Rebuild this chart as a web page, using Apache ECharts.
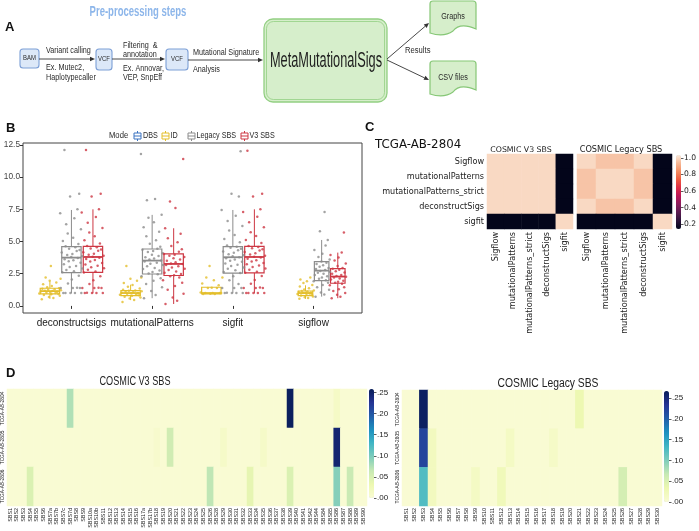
<!DOCTYPE html>
<html><head><meta charset="utf-8">
<script src="https://cdn.jsdelivr.net/npm/echarts@6/dist/echarts.min.js"></script>
<style>html,body{margin:0;padding:0;background:#fff}#c{width:699px;height:531px}</style>
</head><body><div id="c"></div>
<script>
// ================= Panel B data =================
const METHODS = ['deconstructsigs', 'mutationalPatterns', 'sigfit', 'sigflow'];
const MODES = ['DBS', 'ID', 'Legacy SBS', 'V3 SBS'];
const MODE_COLORS = ['#3A73C0', '#E3BE2B', '#8C8C8C', '#CD3743'];
// modes that occupy a dodge slot in each method group
const SLOTS = [
  ['ID', 'Legacy SBS', 'V3 SBS'],
  ['ID', 'Legacy SBS', 'V3 SBS'],
  ['ID', 'Legacy SBS', 'V3 SBS'],
  ['DBS', 'ID', 'Legacy SBS', 'V3 SBS']
];
// boxplot stats per method: [min, Q1, median, Q3, max]
const BOX_ID = [[0.55, 0.93, 1.15, 1.37, 1.9], [0.45, 0.8, 1.0, 1.19, 1.65], [0.93, 0.93, 1.0, 1.45, 1.45], [0.55, 0.8, 1.0, 1.16, 1.6]];
const BOX_LEGACY = [[0.98, 2.58, 3.75, 4.6, 7.45], [0.6, 2.48, 3.52, 4.42, 7.07], [0.98, 2.54, 3.78, 4.6, 7.45], [0.72, 1.97, 2.74, 3.44, 5.12]];
const BOX_V3 = [[0.98, 2.6, 3.8, 4.62, 7.5], [0.15, 2.36, 3.26, 4.04, 6.03], [0.98, 2.56, 3.8, 4.62, 7.5], [0.6, 1.76, 2.28, 2.9, 4.14]];
// individual error values (jittered points)
const PTS_ID = [
  [0.52, 0.62, 0.7, 0.78, 0.84, 0.9, 0.93, 0.96, 1.0, 1.03, 1.06, 1.09, 1.12, 1.15, 1.18, 1.21, 1.25, 1.29, 1.33, 1.37, 1.45, 1.55, 1.68, 1.82, 1.95, 2.1, 2.2, 3.1],
  [0.3, 0.45, 0.58, 0.66, 0.72, 0.78, 0.82, 0.86, 0.9, 0.94, 0.98, 1.0, 1.03, 1.06, 1.1, 1.13, 1.17, 1.2, 1.26, 1.35, 1.48, 1.62, 1.78, 1.95, 2.1, 2.2, 3.1],
  [0.93, 0.93, 0.95, 1.0, 1.0, 1.0, 1.0, 1.05, 1.4, 1.4, 1.42, 1.6, 1.75, 2.0, 2.2, 2.2, 3.1],
  [0.55, 0.62, 0.68, 0.74, 0.8, 0.84, 0.88, 0.92, 0.96, 1.0, 1.02, 1.05, 1.08, 1.12, 1.15, 1.2, 1.28, 1.38, 1.5, 1.62, 1.78, 1.92, 2.05, 2.2]
];
const PTS_LEGACY = [
  [1.0, 1.0, 1.0, 1.0, 1.01, 1.4, 1.4, 1.4, 1.41, 1.75, 2.05, 2.35, 2.62, 2.7, 2.78, 2.9, 3.02, 3.1, 3.24, 3.35, 3.46, 3.55, 3.63, 3.72, 3.8, 3.86, 3.95, 4.04, 4.15, 4.26, 4.35, 4.44, 4.55, 4.63, 4.8, 5.05, 5.3, 5.62, 5.95, 6.35, 6.8, 7.2, 7.5, 8.5, 8.7, 12.1],
  [0.6, 0.85, 1.15, 1.45, 1.7, 1.95, 2.15, 2.3, 2.45, 2.52, 2.63, 2.75, 2.86, 2.95, 3.08, 3.18, 3.27, 3.36, 3.45, 3.52, 3.6, 3.68, 3.78, 3.88, 3.98, 4.08, 4.18, 4.27, 4.36, 4.44, 4.6, 4.82, 5.1, 5.4, 5.75, 6.1, 6.5, 6.85, 7.07, 8.2, 8.3, 11.8],
  [1.0, 1.0, 1.0, 1.0, 1.02, 1.4, 1.4, 1.4, 1.7, 2.0, 2.3, 2.55, 2.64, 2.76, 2.88, 2.98, 3.1, 3.2, 3.3, 3.42, 3.5, 3.6, 3.7, 3.78, 3.85, 3.93, 4.02, 4.12, 4.22, 4.32, 4.43, 4.52, 4.6, 4.7, 4.95, 5.2, 5.5, 5.85, 6.2, 6.6, 7.0, 7.45, 8.5, 8.7, 12.0],
  [0.72, 0.88, 1.05, 1.25, 1.45, 1.62, 1.8, 1.92, 2.0, 2.1, 2.2, 2.3, 2.4, 2.5, 2.58, 2.66, 2.72, 2.78, 2.86, 2.95, 3.05, 3.15, 3.25, 3.35, 3.44, 3.6, 3.8, 4.05, 4.35, 4.7, 5.12, 5.8, 7.3]
];
const PTS_V3 = [
  [1.0, 1.0, 1.0, 1.0, 1.02, 1.4, 1.4, 1.4, 1.42, 1.7, 2.0, 2.3, 2.6, 2.68, 2.8, 2.92, 3.0, 3.12, 3.22, 3.33, 3.44, 3.56, 3.65, 3.74, 3.82, 3.9, 3.98, 4.06, 4.17, 4.28, 4.38, 4.46, 4.56, 4.65, 4.85, 5.1, 5.4, 5.7, 6.05, 6.45, 6.9, 7.25, 7.5, 8.5, 8.7, 12.1],
  [0.15, 0.4, 0.65, 0.95, 1.25, 1.55, 1.8, 2.0, 2.2, 2.3, 2.38, 2.48, 2.58, 2.68, 2.78, 2.88, 2.98, 3.08, 3.17, 3.25, 3.3, 3.4, 3.5, 3.6, 3.7, 3.8, 3.9, 3.98, 4.04, 4.2, 4.4, 4.65, 4.95, 5.25, 5.6, 6.03, 7.6, 8.1, 11.4],
  [1.0, 1.0, 1.0, 1.0, 1.01, 1.4, 1.4, 1.4, 1.43, 1.72, 2.02, 2.32, 2.58, 2.66, 2.8, 2.9, 3.02, 3.14, 3.24, 3.34, 3.45, 3.55, 3.66, 3.76, 3.82, 3.9, 4.0, 4.08, 4.18, 4.3, 4.4, 4.48, 4.58, 4.66, 4.88, 5.12, 5.42, 5.72, 6.1, 6.5, 6.92, 7.3, 7.5, 8.5, 8.7, 12.05],
  [0.6, 0.72, 0.86, 1.0, 1.15, 1.3, 1.45, 1.6, 1.72, 1.8, 1.88, 1.96, 2.05, 2.12, 2.2, 2.26, 2.32, 2.4, 2.5, 2.6, 2.7, 2.8, 2.88, 2.95, 3.1, 3.3, 3.52, 3.75, 3.95, 4.14, 5.7]
];
// horizontal jitter, as a fraction of box width
const JITTER = [-0.42, 0.18, -0.05, 0.51, -0.31, 0.07, 0.44, -0.55, 0.29, -0.18, 0.02, 0.38, -0.47, 0.13, -0.26, 0.57, -0.09, 0.24, -0.39, 0.47, -0.14, 0.1, -0.35, 0.33, -0.01, 0.55, -0.22, 0.05, -0.5, 0.27, 0.42, -0.12, 0.2, -0.3, 0.36, -0.44, 0.09, -0.19, 0.49, -0.27, 0.15, -0.58, 0.31, -0.07, 0.4, -0.36, 0.22];
const B_Y_TICKS = [0, 2.5, 5, 7.5, 10, 12.5];

// ================= Panel C data =================
const C_LABELS = ['Sigflow', 'mutationalPatterns', 'mutationalPatterns_strict', 'deconstructSigs', 'sigfit'];
const C_V3 = [
  [1, 1, 1, 1, 0.14],
  [1, 1, 1, 1, 0.14],
  [1, 1, 1, 1, 0.14],
  [1, 1, 1, 1, 0.14],
  [0.14, 0.14, 0.14, 0.14, 1]
];
const C_LEGACY = [
  [1, 0.96, 0.96, 1, 0.14],
  [0.96, 1, 1, 0.96, 0.14],
  [0.96, 1, 1, 0.96, 0.14],
  [1, 0.96, 0.96, 1, 0.14],
  [0.14, 0.14, 0.14, 0.14, 1]
];
const C_TICKS = [0.2, 0.4, 0.6, 0.8, 1.0];

// ================= Panel D data =================
const D_SAMPLES = ['TCGA-AB-2804', 'TCGA-AB-2805', 'TCGA-AB-2806'];
const D_V3_COLS = ['SBS1','SBS2','SBS3','SBS4','SBS5','SBS6','SBS7a','SBS7b','SBS7c','SBS7d','SBS8','SBS9','SBS10a','SBS10b','SBS11','SBS12','SBS13','SBS14','SBS15','SBS16','SBS17a','SBS17b','SBS18','SBS19','SBS20','SBS21','SBS22','SBS23','SBS24','SBS25','SBS26','SBS28','SBS29','SBS30','SBS31','SBS32','SBS33','SBS34','SBS35','SBS36','SBS37','SBS38','SBS39','SBS40','SBS41','SBS42','SBS44','SBS84','SBS85','SBS86','SBS87','SBS88','SBS89','SBS90'];
const D_V3_2804 = [0,0,0,0,0,0,0,0,0,0.075, 0,0,0,0,0,0,0,0,0,0, 0,0,0,0,0,0,0,0,0,0, 0,0,0,0,0,0,0,0,0,0, 0,0,0.255,0,0,0,0,0,0,0.012, 0,0,0,0];
const D_V3_2805 = [0,0,0,0,0,0,0,0,0,0, 0,0,0,0,0,0,0,0,0,0, 0,0,0.006,0,0.057,0,0,0,0,0, 0,0,0.01,0,0,0,0,0,0.01,0, 0,0,0,0,0,0,0,0,0,0.245, 0,0,0,0];
const D_V3_2806 = [0,0,0,0.048,0,0,0,0,0,0, 0,0,0,0,0,0,0,0,0,0, 0,0,0,0,0,0,0,0,0,0, 0.068,0,0,0,0,0,0.038,0,0,0, 0,0,0.048,0,0,0,0,0,0,0.094, 0,0.062,0,0];
const D_LEG_COLS = ['SBS1','SBS2','SBS3','SBS4','SBS5','SBS6','SBS7','SBS8','SBS9','SBS10','SBS11','SBS12','SBS13','SBS14','SBS15','SBS16','SBS17','SBS18','SBS19','SBS20','SBS21','SBS22','SBS23','SBS24','SBS25','SBS26','SBS27','SBS28','SBS29','SBS30'];
const D_LEG_2804 = [0,0,0.262,0,0,0,0,0,0,0, 0,0,0,0,0,0,0,0,0,0, 0.032,0,0,0,0,0,0,0,0,0];
const D_LEG_2805 = [0,0,0.22,0.02,0,0,0,0,0,0, 0,0,0.015,0,0,0,0,0.012,0,0, 0,0,0,0,0,0,0,0,0,0];
const D_LEG_2806 = [0,0,0.125,0.02,0,0,0,0,0.015,0, 0,0.025,0,0,0,0,0,0,0,0, 0,0,0,0,0,0.055,0,0,0,0];
const D_TICKS = [0, 0.05, 0.1, 0.15, 0.2, 0.25];

// ================= colour maps =================
const ROCKET = ['#03051A', '#2B1339', '#5A1C51', '#8A1D5C', '#B91657', '#DD2C45', '#EE5A3F', '#F48C61', '#F6B896', '#FAEBDD'];
const YLGNBU = ['#F9FBD3', '#EDF8B1', '#C7E9B4', '#7FCDBB', '#41B6C4', '#1D91C0', '#225EA8', '#253494', '#081D58'];

// ================= custom shape: document with wavy bottom =================
echarts.graphic.registerShape('docshape', echarts.graphic.extendShape({
  shape: { x0: 0, y0: 0, x1: 0, yb: 0 },
  buildPath: function (ctx, s) {
    const w = s.x1 - s.x0, x0 = s.x0, x1 = s.x1, y0 = s.y0, yb = s.yb;
    ctx.moveTo(x0 + 3, y0);
    ctx.lineTo(x1 - 3, y0);
    ctx.quadraticCurveTo(x1, y0, x1, y0 + 3);
    ctx.lineTo(x1, yb - 2);
    ctx.bezierCurveTo(x1 - w * 0.25, yb - 7, x1 - w * 0.4, yb - 6, x0 + w * 0.5, yb);
    ctx.bezierCurveTo(x0 + w * 0.35, yb + 5, x0 + w * 0.2, yb + 5, x0, yb + 2);
    ctx.lineTo(x0, y0 + 3);
    ctx.quadraticCurveTo(x0, y0, x0 + 3, y0);
    ctx.closePath();
  }
}));

// ================= helpers =================
const SANS = 'Liberation Sans, Arial, sans-serif';
const DJV = 'DejaVu Sans, sans-serif';
function txt(x, y, s, o) {
  o = o || {};
  return { type: 'text', x: x, y: y, scaleX: o.sx || 1, rotation: o.rot || 0, z: 20, silent: true,
    style: { text: s, fontSize: o.fs || 8.5, fontFamily: o.ff || SANS, fontWeight: o.fw || 'normal', fill: o.c || '#2a2a2a',
      align: o.align || 'left', textAlign: o.align || 'left', verticalAlign: 'middle', textVerticalAlign: 'middle' } };
}
function arrow(x1, y1, x2, y2, col) {
  const a = Math.atan2(y2 - y1, x2 - x1), L = 5, W = 2.2;
  const bx = x2 - L * Math.cos(a), by = y2 - L * Math.sin(a);
  return [
    { type: 'line', z: 15, silent: true, shape: { x1: x1, y1: y1, x2: bx, y2: by }, style: { stroke: col, lineWidth: 0.9 } },
    { type: 'polygon', z: 15, silent: true, shape: { points: [[x2, y2], [bx - W * Math.sin(a), by + W * Math.cos(a)], [bx + W * Math.sin(a), by - W * Math.cos(a)]] }, style: { fill: col } }
  ];
}
function docShape(x0, y0, x1, yb) {
  return { type: 'docshape', z: 10, silent: true, shape: { x0: x0, y0: y0, x1: x1, yb: yb },
    style: { fill: '#D6EECB', stroke: '#86C776', lineWidth: 1.2 } };
}
function boxIcon(xc, col) {
  return [
    { type: 'line', z: 20, silent: true, shape: { x1: xc, y1: 131, x2: xc, y2: 141 }, style: { stroke: col, lineWidth: 1 } },
    { type: 'rect', z: 21, silent: true, shape: { x: xc - 3.5, y: 133, width: 7, height: 6 }, style: { fill: '#fff', stroke: col, lineWidth: 1 } },
    { type: 'line', z: 22, silent: true, shape: { x1: xc - 3.5, y1: 136, x2: xc + 3.5, y2: 136 }, style: { stroke: col, lineWidth: 1 } }
  ];
}
function toHeat(matrix) {
  const out = [];
  matrix.forEach((row, r) => row.forEach((v, c) => out.push([c, r, v])));
  return out;
}
function makeBoxRender(color) {
  return function (params, api) {
    const x = api.value(0), w = api.value(6);
    const lo = api.coord([x, api.value(1)]), q1 = api.coord([x, api.value(2)]);
    const q3 = api.coord([x, api.value(4)]), hi = api.coord([x, api.value(5)]);
    const L = api.coord([x - w / 2, api.value(4)]), R = api.coord([x + w / 2, api.value(2)]);
    const m1 = api.coord([x - w / 2, api.value(3)]), m2 = api.coord([x + w / 2, api.value(3)]);
    const ls = { stroke: color, lineWidth: 1 };
    return { type: 'group', children: [
      { type: 'line', shape: { x1: hi[0], y1: hi[1], x2: q3[0], y2: q3[1] }, style: ls },
      { type: 'line', shape: { x1: q1[0], y1: q1[1], x2: lo[0], y2: lo[1] }, style: ls },
      { type: 'rect', shape: { x: L[0], y: L[1], width: R[0] - L[0], height: R[1] - L[1] }, style: { fill: 'rgba(255,255,255,0)', stroke: color, lineWidth: 1.2 } },
      { type: 'line', shape: { x1: m1[0], y1: m1[1], x2: m2[0], y2: m2[1] }, style: { stroke: color, lineWidth: 1.8 } }
    ] };
  };
}

// ================= build panel B series =================
const seriesB = [];
const scatterB = [];
[['ID', BOX_ID, PTS_ID], ['Legacy SBS', BOX_LEGACY, PTS_LEGACY], ['V3 SBS', BOX_V3, PTS_V3]].forEach(([mode, boxes, pts]) => {
  const color = MODE_COLORS[MODES.indexOf(mode)];
  const boxData = [], ptData = [];
  METHODS.forEach((m, i) => {
    const slots = SLOTS[i], n = slots.length, k = slots.indexOf(mode);
    const slotW = 0.8 / n;
    const x = (i + 1) - 0.4 + slotW * (k + 0.5);
    const w = slotW * 0.9;
    boxData.push([x].concat(boxes[i]).concat([w]));
    pts[i].forEach((v, j) => ptData.push([x + JITTER[j % JITTER.length] * w, v]));
  });
  seriesB.push({ type: 'custom', name: mode, xAxisIndex: 0, yAxisIndex: 0, silent: true, z: 2,
    renderItem: makeBoxRender(color), encode: { x: 0, y: [1, 2, 3, 4, 5] }, data: boxData });
  scatterB.push({ type: 'scatter', name: mode + ' pts', xAxisIndex: 0, yAxisIndex: 0, silent: true, z: 3,
    symbolSize: 2.5, itemStyle: { color: color, opacity: 0.8 }, data: ptData });
});

// ================= graphic (panel A, legends, titles) =================
const G = [];
G.push(txt(5, 27, 'A', { fs: 13, fw: 'bold', c: '#111' }));
G.push(txt(6, 128, 'B', { fs: 13, fw: 'bold', c: '#111' }));
G.push(txt(365, 127, 'C', { fs: 13, fw: 'bold', c: '#111' }));
G.push(txt(6, 373, 'D', { fs: 13, fw: 'bold', c: '#111' }));
G.push(txt(138, 12, 'Pre-processing steps', { fs: 14, fw: 'bold', c: '#8DB6EA', align: 'center', sx: 0.68 }));
G.push({ type: 'rect', z: 10, silent: true, shape: { x: 20, y: 49, width: 19, height: 19, r: 3 }, style: { fill: '#DCE8F8', stroke: '#7C9FD6', lineWidth: 1.1 } });
G.push(txt(29.5, 58.5, 'BAM', { fs: 7, align: 'center', sx: 0.85 }));
G.push(...arrow(39, 59, 95, 59, '#333'));
G.push(txt(46, 51, 'Variant calling', { sx: 0.85 }));
G.push(txt(46, 68, 'Ex. Mutec2,', { sx: 0.85 }));
G.push(txt(46, 78, 'Haplotypecaller', { sx: 0.85 }));
G.push({ type: 'rect', z: 10, silent: true, shape: { x: 96, y: 49, width: 16, height: 21, r: 3 }, style: { fill: '#DCE8F8', stroke: '#7C9FD6', lineWidth: 1.1 } });
G.push(txt(104, 59.5, 'VCF', { fs: 7, align: 'center', sx: 0.85 }));
G.push(...arrow(112, 59, 165, 59, '#333'));
G.push(txt(123, 46, 'Filtering  &', { sx: 0.85 }));
G.push(txt(123, 55, 'annotation', { sx: 0.85 }));
G.push(txt(123, 69, 'Ex. Annovar,', { sx: 0.85 }));
G.push(txt(123, 78, 'VEP, SnpEff', { sx: 0.85 }));
G.push({ type: 'rect', z: 10, silent: true, shape: { x: 166, y: 49, width: 22, height: 21, r: 3 }, style: { fill: '#DCE8F8', stroke: '#7C9FD6', lineWidth: 1.1 } });
G.push(txt(177, 59.5, 'VCF', { fs: 7, align: 'center', sx: 0.85 }));
G.push(...arrow(188, 60, 263, 60, '#333'));
G.push(txt(193, 53, 'Mutational Signature', { sx: 0.85 }));
G.push(txt(193, 70, 'Analysis', { sx: 0.85 }));
G.push({ type: 'rect', z: 10, silent: true, shape: { x: 264, y: 19, width: 123, height: 83, r: 9 }, style: { fill: '#D6EECB', stroke: '#93CF83', lineWidth: 1.3 } });
G.push({ type: 'rect', z: 11, silent: true, shape: { x: 266.5, y: 21.5, width: 118, height: 78, r: 7 }, style: { fill: 'none', stroke: '#93CF83', lineWidth: 0.8 } });
G.push(txt(326, 61, 'MetaMutationalSigs', { fs: 22, align: 'center', sx: 0.58, c: '#1e1e1e' }));
G.push(...arrow(387, 59, 429, 23, '#333'));
G.push(...arrow(387, 60, 429, 80, '#333'));
G.push(txt(405, 51, 'Results', { sx: 0.9 }));
G.push(docShape(430, 1, 476, 31));
G.push(txt(453, 17, 'Graphs', { align: 'center', sx: 0.85 }));
G.push(docShape(430, 61, 476, 92));
G.push(txt(453, 78, 'CSV files', { align: 'center', sx: 0.85 }));
G.push(txt(109, 135.5, 'Mode', { fs: 9, sx: 0.85 }));
const legendItems = [['DBS', 137.5, 143], ['ID', 165.5, 170.5], ['Legacy SBS', 191.5, 196.5], ['V3 SBS', 244.5, 249.5]];
legendItems.forEach(([name, xi, xt]) => {
  G.push(...boxIcon(xi, MODE_COLORS[MODES.indexOf(name)]));
  G.push(txt(xt, 135.5, name, { fs: 9, sx: 0.8 }));
});
G.push(txt(375, 145, 'TCGA-AB-2804', { fs: 11.8, ff: DJV, c: '#111' }));
G.push(txt(521, 150, 'COSMIC V3 SBS', { fs: 7.8, ff: DJV, align: 'center', c: '#222' }));
G.push(txt(621, 150, 'COSMIC Legacy SBS', { fs: 8.2, ff: DJV, align: 'center', c: '#222' }));
G.push(txt(135, 382, 'COSMIC V3 SBS', { fs: 12, align: 'center', sx: 0.76, c: '#222' }));
G.push(txt(548, 383.5, 'COSMIC Legacy SBS', { fs: 12, align: 'center', sx: 0.86, c: '#222' }));

// ================= axis builders =================
function heatX(gi, labels, o) {
  return { type: 'category', gridIndex: gi, data: labels, position: 'bottom',
    axisLine: { show: false }, axisTick: { show: false }, splitLine: { show: false },
    axisLabel: { show: o.show !== false, rotate: 90, interval: 0, hideOverlap: false, fontSize: o.fs, fontFamily: o.ff, color: '#222', margin: o.margin } };
}
function heatY(gi, labels, o) {
  return { type: 'category', gridIndex: gi, data: labels, inverse: true,
    axisLine: { show: false }, axisTick: { show: false }, splitLine: { show: false },
    axisLabel: { show: o.show !== false, rotate: o.rot || 0, interval: 0, hideOverlap: false, fontSize: o.fs, fontFamily: o.ff, color: '#222', margin: o.margin } };
}
function cbarX(gi) { return { type: 'category', gridIndex: gi, data: [''], show: false }; }
function cbarY(gi, min, max, ticks, fmt, o) {
  return { type: 'value', gridIndex: gi, min: min, max: max, position: 'right',
    axisLine: { show: false }, splitLine: { show: false },
    axisTick: { show: true, length: 2.5, customValues: ticks, lineStyle: { color: '#333', width: 0.8 } },
    axisLabel: { customValues: ticks, formatter: fmt, fontSize: o.fs, fontFamily: o.ff, color: '#222', margin: 3 } };
}

const gridBase = { containLabel: false, outerBoundsMode: 'none' };
const option = {
  animation: false,
  backgroundColor: '#fff',
  grid: [
    Object.assign({ left: 23, top: 143, width: 339, height: 170, show: true, borderColor: '#444', borderWidth: 1, backgroundColor: 'transparent' }, gridBase),
    Object.assign({ left: 487, top: 154, width: 86, height: 75 }, gridBase),
    Object.assign({ left: 577, top: 154, width: 95, height: 75 }, gridBase),
    Object.assign({ left: 676, top: 155, width: 5, height: 74 }, gridBase),
    Object.assign({ left: 7, top: 389, width: 360, height: 117 }, gridBase),
    Object.assign({ left: 369, top: 389, width: 5, height: 109 }, gridBase),
    Object.assign({ left: 402, top: 390, width: 260, height: 116 }, gridBase),
    Object.assign({ left: 664, top: 391, width: 5, height: 111 }, gridBase)
  ],
  xAxis: [
    { type: 'value', gridIndex: 0, min: 0.4, max: 4.6, splitLine: { show: false }, axisLine: { show: false },
      axisTick: { show: true, length: 3, customValues: [1, 2, 3, 4], lineStyle: { color: '#333' } },
      axisLabel: { customValues: [1, 2, 3, 4], formatter: v => METHODS[Math.round(v) - 1], fontSize: 10, fontFamily: SANS, color: '#1a1a1a', margin: 5 } },
    heatX(1, C_LABELS, { fs: 8.1, ff: DJV, margin: 3 }),
    heatX(2, C_LABELS, { fs: 8.1, ff: DJV, margin: 3 }),
    cbarX(3),
    heatX(4, D_V3_COLS, { fs: 5.4, ff: SANS, margin: 2 }),
    cbarX(5),
    heatX(6, D_LEG_COLS, { fs: 5.4, ff: SANS, margin: 2 }),
    cbarX(7)
  ],
  yAxis: [
    { type: 'value', gridIndex: 0, min: -0.55, max: 12.65, splitLine: { show: false }, axisLine: { show: false },
      name: 'Error', nameLocation: 'middle', nameGap: 17, nameTextStyle: { fontSize: 9, fontFamily: SANS, color: '#1a1a1a' },
      axisTick: { show: true, length: 3, customValues: B_Y_TICKS, lineStyle: { color: '#333' } },
      axisLabel: { customValues: B_Y_TICKS, formatter: v => v.toFixed(1), fontSize: 8.3, fontFamily: SANS, color: '#444', margin: 3 } },
    heatY(1, C_LABELS, { fs: 8.1, ff: DJV, margin: 3 }),
    heatY(2, C_LABELS, { show: false }),
    cbarY(3, 0.14, 1.036, C_TICKS, v => v.toFixed(1), { fs: 7.6, ff: DJV }),
    heatY(4, D_SAMPLES, { fs: 4.8, ff: SANS, rot: 90, margin: 2 }),
    cbarY(5, 0, 0.258, D_TICKS, v => v.toFixed(2).replace(/^0/, ''), { fs: 8, ff: SANS }),
    heatY(6, D_SAMPLES, { fs: 4.8, ff: SANS, rot: 90, margin: 2 }),
    cbarY(7, 0, 0.267, D_TICKS, v => v.toFixed(2).replace(/^0/, ''), { fs: 8, ff: SANS })
  ],
  visualMap: [
    { type: 'continuous', seriesIndex: [6, 7], min: 0.14, max: 1.036, inRange: { color: ROCKET }, calculable: false, hoverLink: false,
      left: 676, top: 155, itemWidth: 5, itemHeight: 74, padding: 0, text: null, orient: 'vertical' },
    { type: 'continuous', seriesIndex: [8], min: 0, max: 0.258, inRange: { color: YLGNBU }, calculable: false, hoverLink: false,
      left: 369, top: 389, itemWidth: 5, itemHeight: 109, padding: 0, text: null, orient: 'vertical' },
    { type: 'continuous', seriesIndex: [9], min: 0, max: 0.267, inRange: { color: YLGNBU }, calculable: false, hoverLink: false,
      left: 664, top: 391, itemWidth: 5, itemHeight: 111, padding: 0, text: null, orient: 'vertical' }
  ],
  graphic: { elements: G },
  series: [
    ...seriesB,
    ...scatterB,
    { type: 'heatmap', xAxisIndex: 1, yAxisIndex: 1, data: toHeat(C_V3), silent: true, itemStyle: { borderWidth: 0 } },
    { type: 'heatmap', xAxisIndex: 2, yAxisIndex: 2, data: toHeat(C_LEGACY), silent: true, itemStyle: { borderWidth: 0 } },
    { type: 'heatmap', xAxisIndex: 4, yAxisIndex: 4, data: toHeat([D_V3_2804, D_V3_2805, D_V3_2806]), silent: true, itemStyle: { borderWidth: 0 } },
    { type: 'heatmap', xAxisIndex: 6, yAxisIndex: 6, data: toHeat([D_LEG_2804, D_LEG_2805, D_LEG_2806]), silent: true, itemStyle: { borderWidth: 0 } }
  ]
};
const chart = echarts.init(document.getElementById('c'), null, { renderer: 'canvas' });
chart.setOption(option);
</script>
</body></html>
